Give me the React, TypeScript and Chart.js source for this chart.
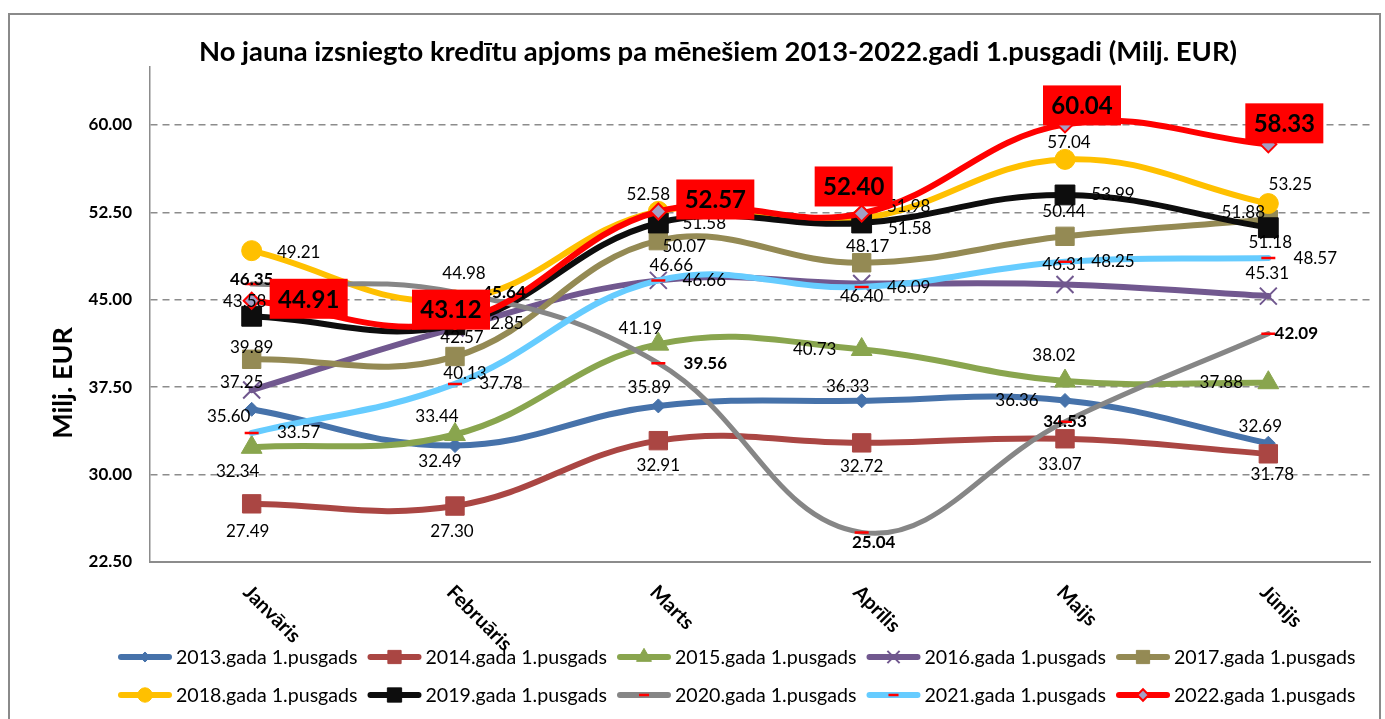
import React, { useEffect, useRef } from 'react';
import { Chart, registerables } from 'chart.js';
import { drawPoint } from 'chart.js/helpers';

Chart.register(...registerables);

// ---------- data ----------
const months = ['Janvāris', 'Februāris', 'Marts', 'Aprīlis', 'Maijs', 'Jūnijs'];
const seriesNames = [
  '2013.gada 1.pusgads', '2014.gada 1.pusgads', '2015.gada 1.pusgads', '2016.gada 1.pusgads', '2017.gada 1.pusgads',
  '2018.gada 1.pusgads', '2019.gada 1.pusgads', '2020.gada 1.pusgads', '2021.gada 1.pusgads', '2022.gada 1.pusgads',
];
const s2013 = [35.6, 32.49, 35.89, 36.33, 36.36, 32.69];
const s2014 = [27.49, 27.3, 32.91, 32.72, 33.07, 31.78];
const s2015 = [32.34, 33.44, 41.19, 40.73, 38.02, 37.88];
const s2016 = [37.25, 42.57, 46.66, 46.4, 46.31, 45.31];
const s2017 = [39.89, 40.13, 50.07, 48.17, 50.44, 51.88];
const s2018 = [49.21, 44.98, 52.58, 51.98, 57.04, 53.25];
const s2019 = [43.58, 42.85, 51.58, 51.58, 53.99, 51.18];
const s2020 = [46.35, 45.64, 39.56, 25.04, 34.53, 42.09];
const s2021 = [33.57, 37.78, 46.66, 46.09, 48.25, 48.57];
const s2022 = [44.91, 43.12, 52.57, 52.4, 60.04, 58.33];
const seriesValues = [s2013, s2014, s2015, s2016, s2017, s2018, s2019, s2020, s2021, s2022];
const yTicks = [22.5, 30, 37.5, 45, 52.5, 60];

const TITLE = 'No jauna izsniegto kredītu apjoms pa mēnešiem 2013-2022.gadi 1.pusgadi (Milj. EUR)';
const Y_TITLE = 'Milj. EUR';

// ---------- styles ----------
type St = { color: string; point: string; radius: number; bg: string; border: string; pbw: number; width: number; bold?: boolean; box?: boolean };
const styles: St[] = [
  { color: '#4672AA', point: 'rectRot', radius: 7, bg: '#4672AA', border: '#4672AA', pbw: 1, width: 6 },
  { color: '#AA4643', point: 'rect', radius: 13, bg: '#AA4643', border: '#AA4643', pbw: 1, width: 6 },
  { color: '#89A54E', point: 'triangle', radius: 12, bg: '#89A54E', border: '#89A54E', pbw: 1, width: 6 },
  { color: '#71588F', point: 'crossRot', radius: 12, bg: '#71588F', border: '#71588F', pbw: 2, width: 6 },
  { color: '#948A54', point: 'rect', radius: 13, bg: '#948A54', border: '#948A54', pbw: 1, width: 6 },
  { color: '#FFC000', point: 'circle', radius: 10, bg: '#FFC000', border: '#FFC000', pbw: 1, width: 6 },
  { color: '#0D0D0D', point: 'rect', radius: 14, bg: '#0D0D0D', border: '#0D0D0D', pbw: 1, width: 6 },
  { color: '#868686', point: 'line', radius: 7, bg: '#FF0000', border: '#FF0000', pbw: 2.5, width: 5, bold: true },
  { color: '#66CCFF', point: 'line', radius: 7, bg: '#FF0000', border: '#FF0000', pbw: 2.5, width: 6 },
  { color: '#FF0000', point: 'rectRot', radius: 8, bg: '#A29FC5', border: '#FF0000', pbw: 2, width: 6, box: true },
];

// label centre offsets from each point (dx, dy), per series
const labelOffsets: number[][][] = [
  [[-23, 7], [-15, 16], [-9, -18], [-14, -14], [-48, 0], [-8, -17]],
  [[-4, 28], [-3, 25], [0, 25], [0, 24], [-5, 26], [4, 21]],
  [[-14, 24], [-18, -18], [-18, -16], [-47, 0], [-11, -26], [-47, 0]],
  [[-10, -8], [7, 9], [13, -15], [0, 13], [-1, -20], [-1, -23]],
  [[0, -12], [10, 17], [26, 6], [6, -16], [-1, -25], [-25, -7]],
  [[47, 2], [9, -26], [-10, -17], [47, -12], [4, -17], [22, -19]],
  [[-7, -15], [47, -1], [46, 0], [48, 5], [48, 0], [2, 15]],
  [[0, -4], [49, 0], [47, 0], [12, 10], [0, 0], [28, 0]],
  [[47, 0], [46, 0], [46, 0], [47, 0], [48, 0], [47, 0]],
  [[57, -2], [-4, -12], [57, -12], [-8, -27], [17, -19], [16, -21]],
];

const FONT = 'Lato';

const dataLabelPlugin = {
  id: 'dataLabelPlugin',
  afterDatasetsDraw(chart: any) {
    const ctx = chart.ctx;
    ctx.save();
    ctx.textAlign = 'center';
    ctx.textBaseline = 'middle';
    seriesValues.forEach((vals, i) => {
      const meta = chart.getDatasetMeta(i);
      const st = styles[i];
      meta.data.forEach((pt: any, j: number) => {
        const [dx, dy] = labelOffsets[i][j];
        const x = pt.x + dx;
        const y = pt.y + dy;
        const txt = vals[j].toFixed(2);
        if (st.box) {
          ctx.fillStyle = '#FF0000';
          ctx.fillRect(x - 39, y - 20, 78, 40);
          ctx.fillStyle = '#000';
          ctx.font = `bold 24px ${FONT}`;
          ctx.fillText(txt, x, y + 1);
        } else {
          ctx.fillStyle = '#000';
          ctx.font = `${st.bold ? 'bold ' : ''}17px ${FONT}`;
          ctx.fillText(txt, x, y);
        }
      });
    });
    ctx.restore();
  },
};

const textPlugin = {
  id: 'textPlugin',
  afterDraw(chart: any) {
    const ctx = chart.ctx;
    const xs = chart.scales.x;
    const base = chart.chartArea.bottom;
    ctx.save();
    ctx.fillStyle = '#000';

    // chart title
    ctx.font = `bold 27.4px ${FONT}`;
    ctx.textAlign = 'center';
    ctx.textBaseline = 'middle';
    ctx.fillText(TITLE, 718, 52);

    // category labels, rotated 45 degrees clockwise, starting at each category
    ctx.font = `bold 20px ${FONT}`;
    ctx.textAlign = 'left';
    ctx.textBaseline = 'middle';
    months.forEach((m, j) => {
      const x = xs.getPixelForTick(j);
      ctx.save();
      ctx.translate(x - 5, base + 27);
      ctx.rotate(Math.PI / 4);
      ctx.fillText(m, 0, 0);
      ctx.restore();
    });

    // value axis title (vertical, reading bottom to top)
    ctx.save();
    ctx.font = `bold 27px ${FONT}`;
    ctx.textAlign = 'center';
    ctx.textBaseline = 'alphabetic';
    ctx.translate(72, 383);
    ctx.rotate(-Math.PI / 2);
    ctx.fillText(Y_TITLE, 0, 0);
    ctx.restore();

    ctx.restore();
  },
};

const legendPlugin = {
  id: 'legendPlugin',
  afterDraw(chart: any) {
    const ctx = chart.ctx;
    ctx.save();
    seriesNames.forEach((name, i) => {
      const st = styles[i];
      const row = Math.floor(i / 5);
      const col = i % 5;
      const x0 = 118 + col * 249.5;
      const y = 657 + row * 38;
      ctx.strokeStyle = st.color;
      ctx.lineWidth = 6;
      ctx.lineCap = 'round';
      ctx.beginPath();
      ctx.moveTo(x0 + 3, y);
      ctx.lineTo(x0 + 51, y);
      ctx.stroke();
      ctx.fillStyle = st.bg;
      ctx.strokeStyle = st.border;
      ctx.lineWidth = st.pbw;
      ctx.lineCap = 'butt';
      drawPoint(ctx, { pointStyle: st.point as any, rotation: 0, radius: st.radius * 0.72, borderWidth: st.pbw }, x0 + 27, y);
      ctx.fillStyle = '#000';
      ctx.font = `19.6px ${FONT}`;
      ctx.textAlign = 'left';
      ctx.textBaseline = 'middle';
      ctx.fillText(name, x0 + 58, y + 1);
    });
    ctx.restore();
  },
};

export default function App() {
  const ref = useRef<HTMLCanvasElement | null>(null);
  useEffect(() => {
    let chart: Chart | null = null;
    let cancelled = false;
    const make = () => {
      if (cancelled || !ref.current) return;
      chart = new Chart(ref.current, {
        type: 'line',
        data: {
          labels: months,
          datasets: seriesValues.map((vals, i) => ({
            label: seriesNames[i],
            data: vals,
            order: 9 - i,
            borderColor: styles[i].color,
            backgroundColor: styles[i].bg,
            borderWidth: styles[i].width,
            borderCapStyle: 'round',
            borderJoinStyle: 'round',
            tension: 0.4,
            fill: false,
            pointStyle: styles[i].point as any,
            pointRadius: styles[i].radius,
            pointBackgroundColor: styles[i].bg,
            pointBorderColor: styles[i].border,
            pointBorderWidth: styles[i].pbw,
          })),
        },
        options: {
          responsive: false,
          animation: false,
          events: [],
          layout: { padding: { left: 40, right: 15, top: 66.6, bottom: 157 } },
          plugins: {
            legend: { display: false },
            tooltip: { enabled: false },
            title: { display: false },
          },
          scales: {
            x: {
              type: 'category',
              offset: true,
              grid: { display: false, drawTicks: false },
              border: { display: true, color: '#8c8c8c', width: 2 },
              ticks: { display: false },
              afterFit: (s: any) => { s.height = 0; s.paddingLeft = 0; s.paddingRight = 0; },
            },
            y: {
              min: 22.5,
              max: 65,
              afterBuildTicks: (s: any) => { s.ticks = yTicks.map((v) => ({ value: v })); },
              afterFit: (s: any) => { s.width = 110; s.paddingTop = 0; s.paddingBottom = 0; },
              ticks: {
                color: '#000',
                font: { family: FONT, size: 17, weight: 'bold' },
                padding: 18,
                callback: (v: any) => Number(v).toFixed(2),
              },
              grid: {
                color: (c: any) => (c.tick && c.tick.value === 22.5 ? 'rgba(0,0,0,0)' : '#8c8c8c'),
                lineWidth: 1.6,
                drawTicks: false,
              },
              border: { display: true, color: '#8c8c8c', width: 1.5, dash: [7, 5] },
              title: { display: false },
            },
          },
        },
        plugins: [dataLabelPlugin, textPlugin, legendPlugin],
      } as any);
    };
    const fonts = (document as any).fonts;
    if (fonts && fonts.load) {
      Promise.all([fonts.load(`17px ${FONT}`), fonts.load(`bold 17px ${FONT}`)]).then(make, make);
    } else {
      make();
    }
    return () => {
      cancelled = true;
      if (chart) chart.destroy();
    };
  }, []);

  return (
    <div style={{ position: 'absolute', left: 0, top: 0, width: 1385, height: 719, overflow: 'hidden', background: '#fff' }}>
      <div
        style={{
          position: 'absolute', left: 8, top: 13, width: 1373, height: 730,
          border: '2px solid #8a8a8a', boxSizing: 'border-box',
        }}
      />
      <canvas ref={ref} width={1385} height={719} style={{ position: 'absolute', left: 0, top: 0 }} />
    </div>
  );
}
